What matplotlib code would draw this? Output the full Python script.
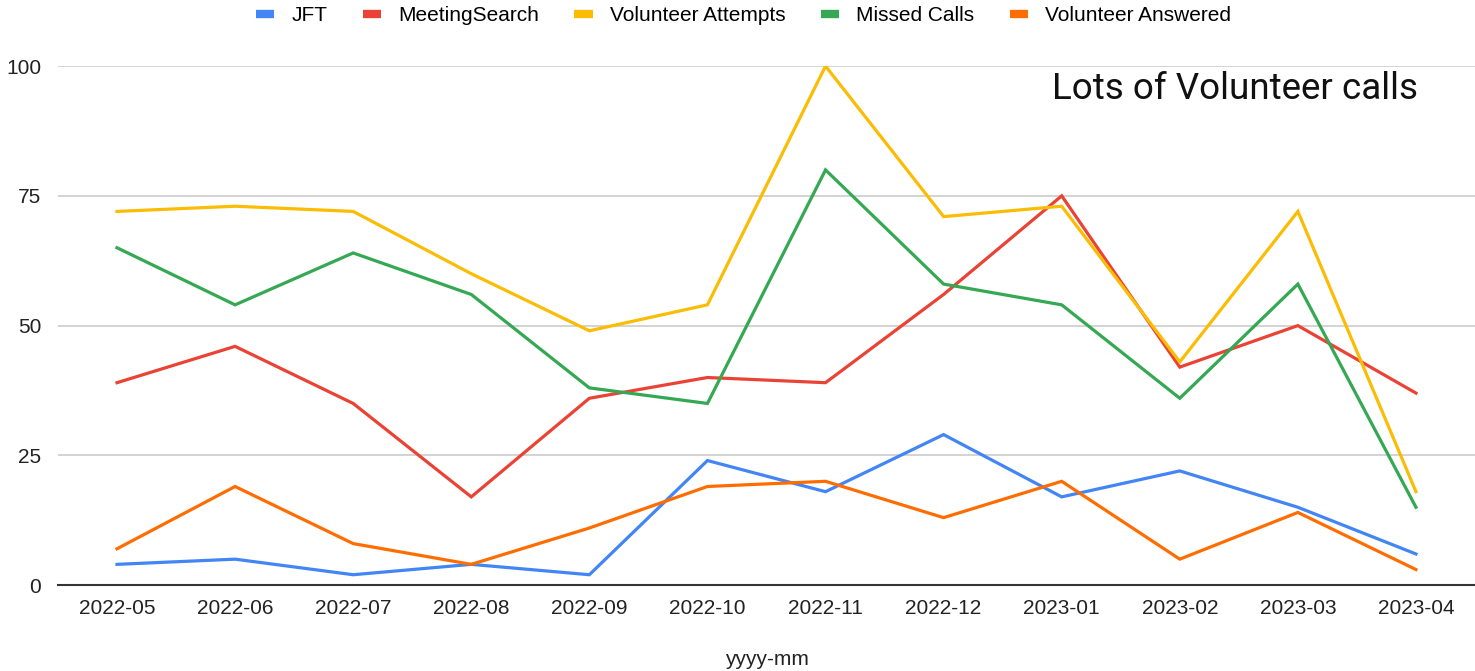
import matplotlib.pyplot as plt
from matplotlib.lines import Line2D

months = ['2022-05', '2022-06', '2022-07', '2022-08', '2022-09', '2022-10',
          '2022-11', '2022-12', '2023-01', '2023-02', '2023-03', '2023-04']
jft = [4, 5, 2, 4, 2, 24, 18, 29, 17, 22, 15, 6]
meeting_search = [39, 46, 35, 17, 36, 40, 39, 56, 75, 42, 50, 37]
vol_attempts = [72, 73, 72, 60, 49, 54, 100, 71, 73, 43, 72, 18]
missed_calls = [65, 54, 64, 56, 38, 35, 80, 58, 54, 36, 58, 15]
vol_answered = [7, 19, 8, 4, 11, 19, 20, 13, 20, 5, 14, 3]

series = [
    ('JFT', jft, '#4285F4'),
    ('MeetingSearch', meeting_search, '#EA4335'),
    ('Volunteer Attempts', vol_attempts, '#FBBC04'),
    ('Missed Calls', missed_calls, '#34A853'),
    ('Volunteer Answered', vol_answered, '#FF6D01'),
]

plt.rcParams['font.family'] = ['Liberation Sans', 'DejaVu Sans']

fig = plt.figure(figsize=(14.75, 6.71), dpi=100)
ax = fig.add_axes([0.0393, 0.128, 0.9607, 0.7735])

x = list(range(len(months)))
for name, vals, color in series:
    ax.plot(x, vals, color=color, linewidth=2.3, label=name, solid_joinstyle='miter')

ax.set_xlim(-0.5, len(months) - 0.5)
ax.set_ylim(0, 100)
ax.set_yticks([0, 25, 50, 75, 100])
ax.set_xticks(x)
ax.set_xticklabels(months)
ax.tick_params(axis='both', length=0, labelsize=15, colors='#222222')
ax.tick_params(axis='x', pad=10)
ax.tick_params(axis='y', pad=12)
ax.grid(axis='y', color='#cccccc', linewidth=1.2)
ax.set_axisbelow(True)
for side in ['top', 'right', 'left']:
    ax.spines[side].set_visible(False)
ax.spines['bottom'].set_color('#333333')
ax.spines['bottom'].set_linewidth(1.5)
ax.spines['bottom'].set_zorder(5)

ax.set_xlabel('yyyy-mm', fontsize=15, labelpad=23, color='#222222')

ax.text(0.96, 0.955, 'Lots of Volunteer calls', transform=ax.transAxes,
        ha='right', va='center', fontsize=26.5, family='Roboto', color='#111111')

handles = [Line2D([0], [0], color=c, linewidth=6, solid_capstyle='butt')
           for _, _, c in series]
fig.legend(handles, [s[0] for s in series], loc='center', bbox_to_anchor=(0.504, 0.977),
           ncol=5, frameon=False, fontsize=15, handletextpad=0.8, columnspacing=1.7,
           handlelength=0.9)

fig.savefig('out.png', dpi=100)
